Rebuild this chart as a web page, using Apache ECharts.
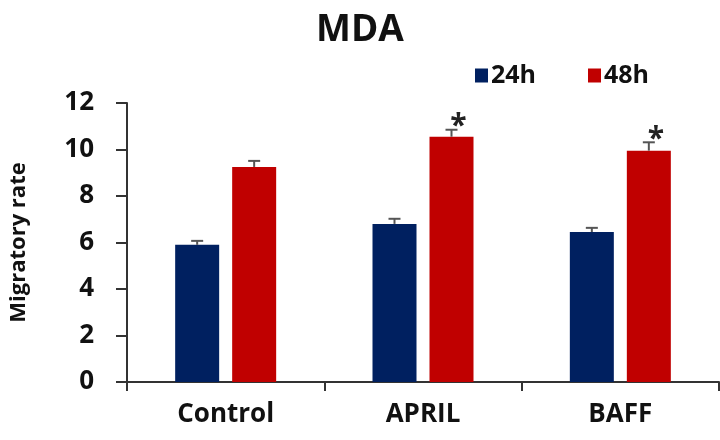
<!DOCTYPE html>
<html>
<head>
<meta charset="utf-8">
<script src="https://cdn.jsdelivr.net/npm/echarts@6/dist/echarts.min.js"></script>
<style>
  html, body { margin: 0; padding: 0; background: #fff; }
  #chart { width: 720px; height: 440px; }
</style>
</head>
<body>
<div id="chart"></div>
<script>
const categories = ['Control', 'APRIL', 'BAFF'];
const seriesNames = ['24h', '48h'];
const values24h = [5.9, 6.8, 6.45];
const values48h = [9.25, 10.55, 9.95];
const err24h = [0.17, 0.22, 0.18];
const err48h = [0.26, 0.3, 0.36];
const sig24h = ['', '', ''];
const sig48h = ['', '*', '*'];
const yTicks = [0, 2, 4, 6, 8, 10, 12];

const FONT = '"Open Sans", sans-serif';
const BAR_W = 44;
const GAP = 13;
const COLORS = ['#002060', '#C00000'];

function errData(vals, errs, sigs) {
  return vals.map((v, i) => [i, v, errs[i], sigs[i]]);
}

function makeErr(sign, sigs) {
  return function (params, api) {
    const cat = api.value(0), v = api.value(1), e = api.value(2);
    const sig = sigs[params.dataIndex];
    const base = api.coord([cat, v]);
    const top = api.coord([cat, v + e]);
    const x = base[0] + sign * (BAR_W + GAP) / 2;
    const children = [
      { type: 'line', shape: { x1: x, y1: base[1], x2: x, y2: top[1] }, style: { stroke: '#555', lineWidth: 2 } },
      { type: 'line', shape: { x1: x - 6, y1: top[1], x2: x + 6, y2: top[1] }, style: { stroke: '#555', lineWidth: 2 } }
    ];
    if (sig) {
      children.push({
        type: 'text',
        style: { text: sig, x: x + 7, y: top[1] + 12, fill: '#222', font: 'bold 30px ' + FONT, textAlign: 'center', textVerticalAlign: 'bottom' }
      });
    }
    return { type: 'group', children: children };
  };
}

const chart = echarts.init(document.getElementById('chart'));
chart.setOption({
  animation: false,
  backgroundColor: '#fff',
  title: {
    text: 'MDA', left: 'center', top: 7,
    textStyle: { fontFamily: FONT, fontWeight: 'bold', fontSize: 37, color: '#111' }
  },
  legend: {
    data: seriesNames, left: 470, top: 58,
    icon: 'rect', itemWidth: 13, itemHeight: 14, itemGap: 52,
    textStyle: { fontFamily: FONT, fontWeight: 'bold', fontSize: 25, color: '#111', padding: [0, 0, 0, -2] }
  },
  grid: { left: 121, right: 1, top: 103, bottom: 58 },
  xAxis: {
    type: 'category', data: categories,
    axisLine: { lineStyle: { color: '#333', width: 2 } },
    axisTick: { show: true, length: 9, lineStyle: { color: '#333', width: 2 } },
    axisLabel: { margin: 20, fontFamily: FONT, fontWeight: 'bold', fontSize: 26, color: '#111' }
  },
  yAxis: {
    type: 'value', min: yTicks[0], max: yTicks[yTicks.length - 1], interval: 2,
    name: 'Migratory rate', nameLocation: 'middle', nameRotate: 90, nameGap: 97,
    nameTextStyle: { fontFamily: FONT, fontWeight: 'bold', fontSize: 22, color: '#111' },
    splitLine: { show: false },
    axisLine: { show: true, lineStyle: { color: '#333', width: 2 } },
    axisTick: { show: true, length: 11, lineStyle: { color: '#333', width: 2 } },
    axisLabel: { margin: 33, fontFamily: FONT, fontWeight: 'bold', fontSize: 26, color: '#111' }
  },
  series: [
    { name: seriesNames[0], type: 'bar', data: values24h, barWidth: BAR_W, barGap: (GAP / BAR_W * 100) + '%', itemStyle: { color: COLORS[0] } },
    { name: seriesNames[1], type: 'bar', data: values48h, barWidth: BAR_W, itemStyle: { color: COLORS[1] } },
    { name: 'err24', type: 'custom', data: errData(values24h, err24h, sig24h), renderItem: makeErr(-1, sig24h), z: 5 },
    { name: 'err48', type: 'custom', data: errData(values48h, err48h, sig48h), renderItem: makeErr(1, sig48h), z: 5 }
  ]
});
</script>
</body>
</html>
